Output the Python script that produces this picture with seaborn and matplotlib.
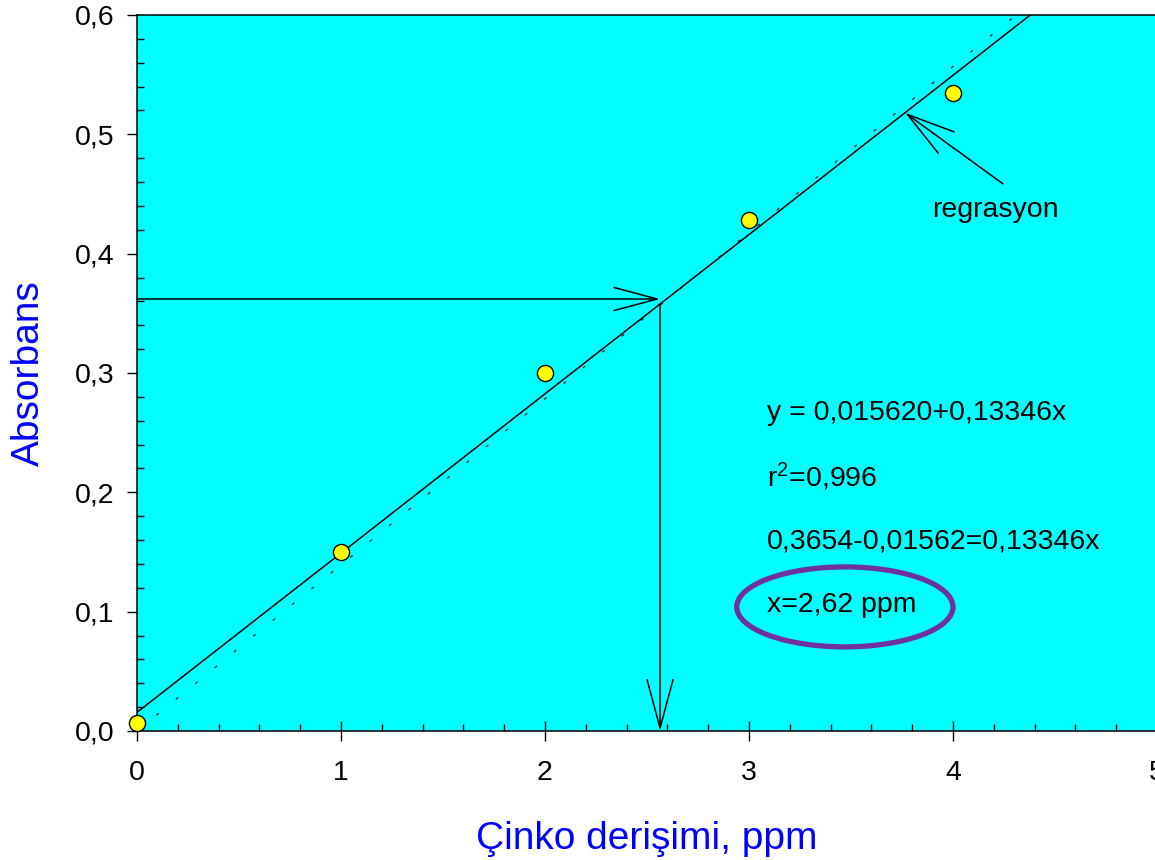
# plot.py
# Calibration curve for zinc: absorbance vs concentration, with the
# least-squares line and the read-off of an unknown sample (x = 2,62 ppm)

import matplotlib
matplotlib.use("Agg")
import matplotlib.pyplot as plt
from matplotlib.patches import Ellipse
from matplotlib.ticker import MultipleLocator, FuncFormatter
import seaborn as sns
import pandas as pd

# --- data ---
concentration = [0, 1, 2, 3, 4]                    # ppm
absorbance = [0.007, 0.150, 0.300, 0.428, 0.535]

# regression shown in the chart text
intercept = 0.01562
slope = 0.13346
# faint dotted line (fit forced through the origin)
origin_slope = 0.1392

# read-off of the unknown sample as drawn
sample_abs = 0.362
sample_conc = 2.564

eq_lines = ["y = 0,015620+0,13346x", "r$^{2}$=0,996",
            "0,3654-0,01562=0,13346x", "x=2,62 ppm"]

sns.set_style("ticks")
plt.rcParams["font.family"] = ["Liberation Sans", "DejaVu Sans"]
plt.rcParams["text.color"] = "black"
# superscript in the same face as the rest of the text
plt.rcParams["mathtext.fontset"] = "custom"
plt.rcParams["mathtext.rm"] = "Liberation Sans"
plt.rcParams["mathtext.default"] = "regular"

fig = plt.figure(figsize=(11.55, 8.6), dpi=100)
# axes run a hair past the right edge, as in the original (the "5" is cut)
ax = fig.add_axes([137 / 1155, 1 - 731 / 860, 1020 / 1155, 716 / 860])
ax.set_facecolor("#00FFFF")

line_x = [0, 5]
fit = pd.DataFrame({"x": line_x, "y": [intercept + slope * v for v in line_x]})
origin = pd.DataFrame({"x": line_x, "y": [origin_slope * v for v in line_x]})

sns.lineplot(data=origin, x="x", y="y", ax=ax, color="#222222", lw=0.9,
             linestyle=(0, (2.5, 17.5)), zorder=2)
sns.lineplot(data=fit, x="x", y="y", ax=ax, color="black", lw=1.1, zorder=3)
sns.scatterplot(x=concentration, y=absorbance, ax=ax, s=135, color="#FFFF00",
                edgecolor="black", linewidth=1, zorder=6, clip_on=False)

# read-off arrows: across from the y axis, then down to the x axis
ax.annotate("", xy=(sample_conc, sample_abs), xytext=(0, sample_abs),
            arrowprops=dict(arrowstyle="->,head_length=3.1,head_width=0.83",
                            mutation_scale=10, color="black", lw=1.1,
                            shrinkA=0, shrinkB=0), zorder=4)
ax.annotate("", xy=(sample_conc, 0),
            xytext=(sample_conc, intercept + slope * sample_conc),
            arrowprops=dict(arrowstyle="->,head_length=3.5,head_width=0.94",
                            mutation_scale=10, color="black", lw=1.1,
                            shrinkA=0, shrinkB=0), zorder=4)

# "regrasyon" pointer
ax.annotate("", xy=(3.765, intercept + slope * 3.765), xytext=(4.245, 0.4585),
            arrowprops=dict(arrowstyle="->,head_length=3.46,head_width=0.96",
                            mutation_scale=10, color="black", lw=1.1,
                            shrinkA=0, shrinkB=0), zorder=4)
ax.text(4.206, 0.437, "regrasyon", fontsize=20.5, ha="center", va="center",
        color="black")

# equation block
for i, txt in enumerate(eq_lines):
    ax.text(3.09, 0.2665 - i * 0.0537, txt, fontsize=20.5, ha="left",
            va="center", color="black")

ax.add_patch(Ellipse((3.47, 0.104), 1.06, 0.067, fill=False,
                     edgecolor="#7030A0", lw=3.8, zorder=5))

ax.set_xlim(0, 5)
ax.set_ylim(0, 0.6)
ax.xaxis.set_major_locator(MultipleLocator(1))
ax.xaxis.set_minor_locator(MultipleLocator(0.2))
ax.yaxis.set_major_locator(MultipleLocator(0.1))
ax.yaxis.set_minor_locator(MultipleLocator(0.02))
ax.yaxis.set_major_formatter(FuncFormatter(lambda v, _: f"{v:.1f}".replace(".", ",")))
ax.xaxis.set_major_formatter(FuncFormatter(lambda v, _: f"{v:.0f}"))

ax.tick_params(axis="x", which="major", direction="inout", length=14, width=1,
               pad=14, labelsize=20.5, colors="black")
ax.tick_params(axis="y", which="major", direction="out", length=7, width=1,
               pad=9, labelsize=20.5, colors="black")
ax.tick_params(which="minor", direction="in", length=5, width=1, colors="black")

for side in ["left", "bottom", "top", "right"]:
    ax.spines[side].set_color("black")
    ax.spines[side].set_linewidth(1.1)

ax.set_xlabel("Çinko derişimi, ppm", fontsize=28, color="#0000FF", labelpad=25)
ax.set_ylabel("Absorbans", fontsize=28, color="#0000FF", labelpad=20)

fig.savefig("out.png", dpi=100)
